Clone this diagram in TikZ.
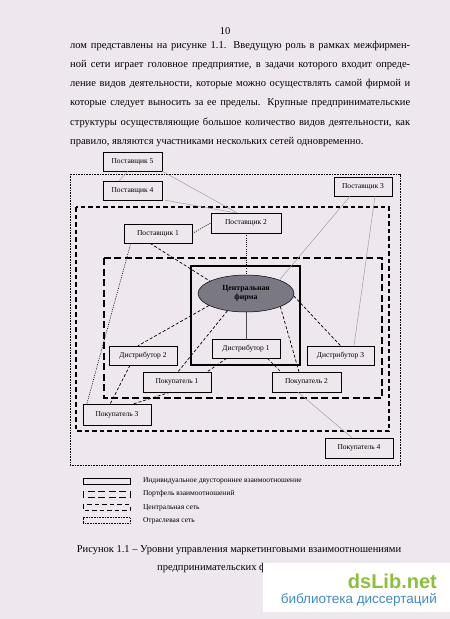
\documentclass[tikz,border=0pt]{standalone}
\usepackage{fontspec}
\setmainfont{Liberation Serif}
\newfontfamily\wmfont{Liberation Sans}
\usetikzlibrary{shapes.geometric,calc}

\definecolor{paper}{RGB}{238,232,238}
\definecolor{firmgray}{RGB}{122,120,130}
\definecolor{wmgreen}{RGB}{140,192,60}
\definecolor{wmblue}{RGB}{64,140,200}

\begin{document}
\begin{tikzpicture}[
  x=1pt, y=-1pt,
  every node/.style={font=\fontsize{7.5}{9}\selectfont},
  unit/.style={draw, line width=.5pt, fill=paper, inner sep=0pt,
    minimum height=19pt, minimum width=68pt},
  firmnode/.style={ellipse, draw, line width=.5pt, fill=firmgray,
    minimum width=96pt, minimum height=37pt, inner sep=0pt, align=center,
    font=\fontsize{7.8}{9.5}\selectfont\bfseries},
  solidlink/.style={gray!75, line width=.5pt},
  dotlink/.style={line width=.6pt, dash pattern=on 1pt off 1.2pt},
  dashlink/.style={line width=.7pt, dash pattern=on 3pt off 2pt},
  indiv/.style={line width=1.4pt},
  portfolio/.style={line width=1.6pt, dash pattern=on 7pt off 3.5pt},
  corenet/.style={line width=1.4pt, dash pattern=on 4.5pt off 3pt},
  branchnet/.style={line width=1pt, dash pattern=on .8pt off .8pt},
  body/.style={font=\fontsize{10.5}{12}\selectfont, inner sep=0pt, anchor=base west}
]
\useasboundingbox (0,0) rectangle (450,619);
\fill[paper] (0,0) rectangle (450,619);

% page number and text above the figure
\node[body, anchor=base] (pagenum) at (225,34.5) {10};
\foreach \txt [count=\i from 0] in {
  {лом представлены на рисунке 1.1. Введущую роль в рамках межфирмен-},
  {ной сети играет головное предприятие, в задачи которого входит опреде-},
  {ление видов деятельности, которые можно осуществлять самой фирмой и},
  {которые следует выносить за ее пределы. Крупные предпринимательские},
  {структуры осуществляющие большое количество видов деятельности, как}}
  \node[body] (line\i) at (70,48+19.3*\i) {\makebox[340pt][s]{\txt}};
\node[body] (line5) at (70,48+19.3*5)
  {правило, являются участниками нескольких сетей одновременно.};

% network levels
\draw[branchnet] (70,174) rectangle (400,465);
\draw[corenet] (76,207) rectangle (389,431);
\draw[portfolio] (104,258) rectangle (382,398);
\draw[indiv] (191,266) rectangle (300,365);

% partners
\node[unit, minimum width=59pt] (sup5) at (132.5,161.5) {Поставщик 5};
\node[unit, minimum width=59pt] (sup4) at (132.5,190.5) {Поставщик 4};
\node[unit, minimum width=58pt] (sup3) at (363,186.5) {Поставщик 3};
\node[unit, minimum width=70pt, minimum height=20pt] (sup2) at (246,223) {Поставщик 2};
\node[unit] (sup1) at (158,233.5) {Поставщик 1};
\node[firmnode] (firm) at (246,293.5) {Центральная\\фирма};
\node[unit] (dist1) at (246,348.5) {Дистрибутор 1};
\node[unit] (dist2) at (143,355.5) {Дистрибутор 2};
\node[unit, minimum width=67pt] (dist3) at (340.5,355.5) {Дистрибутор 3};
\node[unit, minimum height=20pt] (buy1) at (177,382) {Покупатель 1};
\node[unit, minimum width=69pt, minimum height=20pt] (buy2) at (306.5,382) {Покупатель 2};
\node[unit, minimum height=21pt] (buy3) at (117,415) {Покупатель 3};
\node[unit, minimum height=20pt] (buy4) at (359,448) {Покупатель 4};

% relations
\draw[solidlink] ([xshift=-4.5]sup5.south) -- ([xshift=-13.5]sup4.north);
\draw[solidlink] (sup5.south east) -- ([xshift=-9]sup2.north);
\draw[solidlink] ([xshift=3]sup4.south east) -- ([xshift=-11]sup2.north);
\draw[dotlink] (sup1.east) -- (sup2.west);
\draw[dotlink] (sup2.south) -- (firm.north);
\draw[dashlink] ([xshift=-8]sup1.south) -- (firm.161);
\draw[dotlink] ([xshift=7]sup1.south west) -- ([xshift=4]buy3.north west);
\draw[solidlink] ([xshift=-13]sup3.south) -- (firm.22);
\draw[solidlink] ([xshift=12]sup3.south) -- ([xshift=13.5]dist3.north);
\draw[dashlink] (firm.357) -- (dist3.north);
\draw[dashlink] (firm.339) -- ([xshift=-7.5]buy2.north);
\draw[dashlink] ([xshift=-13]dist1.south east) -- ([xshift=9]buy2.north west);
\draw[gray!60!black, line width=.8pt] (firm.south) -- (dist1.north);
\draw[dashlink] (firm.198) -- ([xshift=-5]dist2.north);
\draw[dashlink] (firm.223) -- ([xshift=1]buy1.north);
\draw[dashlink] ([xshift=15]dist1.south west) -- ([xshift=-4]buy1.north east);
\draw[dashlink] ([xshift=-13]dist2.south) -- ([xshift=-7]buy3.north);
\draw[dashlink] ([xshift=-7]buy1.south) -- ([xshift=-19]buy3.north east);
\draw[solidlink] ([xshift=-8.5]buy2.south) -- ([xshift=-7]buy4.north);

% legend
\foreach \yy/\kind/\txt in {
  481/indiv/{Индивидуальное двустороннее взаимоотношение},
  494/portfolio/{Портфель взаимоотношений},
  507.5/corenet/{Центральная сеть},
  520.5/branchnet/{Отраслевая сеть}}{
  \draw[\kind, line width=1pt] (83,\yy-3) rectangle (130,\yy+3);
  \node[anchor=west] at (139.5,\yy) {\txt};
}

% caption
\node[body, anchor=base] (cap1) at (239,552.5)
  {Рисунок 1.1 – Уровни управления маркетинговыми взаимоотношениями};
\node[body] (cap2) at (157,570.5) {предпринимательских ф};

% watermark
\fill[white] (263,563) rectangle (450,612);
\node[anchor=base east, inner sep=0pt, text depth=0pt, text=wmgreen,
  font=\wmfont\bfseries\fontsize{20}{20}\selectfont] (wmlogo) at (437,588.5) {dsLib.net};
\node[anchor=base east, inner sep=0pt, text height=8pt, text=wmblue,
  font=\wmfont\fontsize{13.5}{14}\selectfont] (wmtag) at (437,603) {библиотека диссертаций};
\end{tikzpicture}
\end{document}
